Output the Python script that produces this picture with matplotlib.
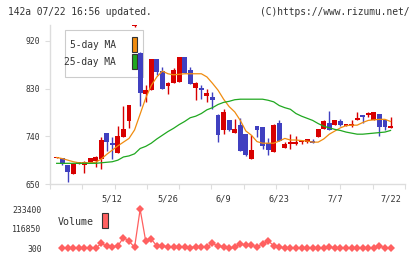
import numpy as np
import matplotlib
matplotlib.use("Agg")
import matplotlib.pyplot as plt
from matplotlib.patches import Rectangle

plt.rcParams['font.family'] = ['DejaVu Sans Mono']

# 61 sessions, last one is 7/22
opens = [699, 700, 686, 669, 688, 686, 692, 694, 697, 746,
         727, 709, 739, 768, 948, 897, 819, 828, 885, 863,
         834, 841, 843, 889, 866, 831, 832, 816, 815, 780,
         751, 771, 747, 761, 744, 698, 759, 758, 727, 711,
         765, 717, 725, 726, 729, 729, 732, 738, 754, 765,
         761, 769, 760, 760, 771, 780, 780, 770, 782, 771, 756]
highs = [700.5, 700, 686, 690, 692, 694, 700, 702, 739, 746,
         739, 760, 797, 800, 960, 899, 837, 886, 886, 870,
         842, 868, 889, 889, 870, 842, 836, 830, 824, 782,
         791, 771, 773, 774, 744, 742, 760, 758, 737, 763,
         771, 730, 744, 740, 732, 735, 735, 754, 770, 788,
         771, 773, 764, 771, 785, 780, 785, 785, 782, 771, 776]
lows = [699, 685, 654, 668, 687, 671, 692, 683, 678, 713,
        698, 709, 739, 755, 946, 797, 805, 827, 856, 830,
        820, 840, 843, 859, 839, 809, 810, 805, 791, 730,
        744, 750, 747, 713, 703, 698, 738, 716, 705, 711,
        732, 717, 716, 724, 725, 727, 728, 738, 753, 752,
        761, 760, 760, 758, 771, 765, 777, 770, 741, 751, 756]
closes = [700.5, 688, 673, 688, 691, 691, 699, 701, 733, 730,
          724, 741, 754, 799, 958, 821, 827, 885, 862, 830,
          841, 865, 889, 859, 839, 841, 828, 822, 809, 743,
          786, 752, 754, 713, 705, 714, 751, 722, 715, 761,
          732, 725, 729, 730, 732, 735, 728, 754, 769, 752,
          771, 761, 763, 763, 775, 777, 784, 785, 758, 757, 759]

ma5 = [700, 698, 695, 692, 690, 690, 690, 691, 697, 706,
       714, 722, 729, 736, 752, 782, 812, 836, 852, 863,
       858, 856, 857, 858, 858, 858, 858, 852, 840, 827,
       810, 796, 786, 770, 750, 742, 730, 727, 727, 727,
       731, 736, 733, 733, 732, 731, 729, 729, 735, 744,
       750, 756, 760, 761, 761, 766, 770, 771, 772, 772, 768]
ma25 = [689, 689, 689, 689, 689, 689, 689, 689, 690, 691,
        692, 695, 701, 703, 707, 717, 721, 727, 735, 742,
        749, 755, 762, 768, 775, 778, 783, 790, 794, 800,
        804, 806, 809, 810, 810, 810, 810, 810, 808, 805,
        798, 794, 791, 783, 778, 774, 770, 764, 759, 756,
        753, 751, 748, 746, 744, 744, 745, 746, 747, 748, 751]

volume = [np.nan, 4000, 4000, 4000, 300, 4000, 300, 300, 29600, 14000,
          10000, 14000, 64700, 43200, 6000, 233400, 43200, 55000, 14000, 14000,
          10000, 10000, 10000, 10000, 4000, 10000, 10000, 10000, 29600, 14000,
          10000, 300, 6000, 27000, 18000, 18000, 10000, 27000, 45000, 16000,
          6000, 4000, 4000, 4000, 4000, 4000, 4000, 4000, 4000, 10000,
          300, 4000, 300, 300, 4000, 4000, 4000, 4000, 16000, 300, 4000]

tick_pos = [10, 20, 30, 40, 50, 60]
tick_labels = ['5/12', '5/26', '6/9', '6/23', '7/7', '7/22']
price_ticks = [650, 740, 830, 920]
vol_ticks = [300, 116850, 233400]

up_col = '#d80000'
down_col = '#4040c0'
ma5_col = '#f08c10'
ma25_col = '#20a820'
vol_col = '#ff6060'
axis_col = '#dddddd'
txt_col = '#333333'

W, H = 420, 259
fig = plt.figure(figsize=(W / 100, H / 100), dpi=100)

def fx(px):
    return px / W

def fy(px):
    return 1 - px / H

ax = fig.add_axes([fx(50), fy(184), fx(355), 159 / H])
vax = fig.add_axes([fx(50), fy(252), fx(355), 47 / H])

x = np.arange(len(opens))
o = np.array(opens, float)
c = np.array(closes, float)
colors = [up_col if cc >= oo else down_col for oo, cc in zip(o, c)]
bottoms = np.minimum(o, c)
heights = np.maximum(np.abs(c - o), 0.8)

ax.vlines(x, lows, highs, colors=colors, linewidth=1.0, zorder=2)
ax.bar(x, heights, bottom=bottoms, width=0.88, color=colors, linewidth=0, zorder=3)
ax.plot(x, ma5, color=ma5_col, linewidth=0.9, zorder=4)
ax.plot(x, ma25, color=ma25_col, linewidth=0.9, zorder=4)

xlim = (-1.2, 62.6)
ax.set_xlim(*xlim)
ax.set_ylim(650, 950)

for side in ['top', 'right']:
    ax.spines[side].set_visible(False)
for side in ['left', 'bottom']:
    ax.spines[side].set_color(axis_col)
    ax.spines[side].set_linewidth(1.0)

ax.set_yticks(price_ticks)
ax.tick_params(axis='y', length=3.6, width=0.8, color=axis_col, pad=3.5,
               labelsize=5.8, labelcolor=txt_col)
ax.set_xticks(tick_pos)
ax.set_xticklabels(tick_labels)
ax.tick_params(axis='x', which='major', length=0, pad=7.8, labelsize=6.2,
               labelcolor=txt_col)
ax.set_xticks(np.linspace(xlim[0], xlim[1], 12), minor=True)
ax.tick_params(axis='x', which='minor', length=3.6, width=0.8, color=axis_col)

# MA legend box (under the candles)
ax.add_patch(Rectangle((fx(65), fy(77)), fx(78), 47 / H, transform=fig.transFigure,
                       facecolor='white', edgecolor='#cccccc', linewidth=0.8,
                       zorder=1, clip_on=False))
ax.text(fx(116), fy(45), '5-day MA', transform=fig.transFigure, ha='right',
        va='center', fontsize=6.9, color=txt_col, zorder=1)
ax.text(fx(116), fy(62), '25-day MA', transform=fig.transFigure, ha='right',
        va='center', fontsize=6.9, color=txt_col, zorder=1)
ax.add_patch(Rectangle((fx(131.7), fy(52)), fx(5.6), 15 / H, transform=fig.transFigure,
                       facecolor=ma5_col, edgecolor='#333333', linewidth=0.8,
                       zorder=1, clip_on=False))
ax.add_patch(Rectangle((fx(131.7), fy(69)), fx(5.6), 15 / H, transform=fig.transFigure,
                       facecolor=ma25_col, edgecolor='#333333', linewidth=0.8,
                       zorder=1, clip_on=False))

# volume panel
vax.plot(x, volume, color=vol_col, linewidth=0.9, marker='D', markersize=4,
         markeredgewidth=0)
vax.set_xlim(*xlim)
span = vol_ticks[-1] - vol_ticks[0]
vax.set_ylim(vol_ticks[0] - span * 0.095, vol_ticks[-1] + span * 0.11)
vax.set_yticks(vol_ticks)
vax.set_yticklabels([str(v) for v in vol_ticks])
vax.tick_params(axis='y', length=0, pad=6, labelsize=5.9, labelcolor=txt_col)
vax.set_xticks([])
for s in vax.spines.values():
    s.set_visible(False)
vax.patch.set_alpha(0)

fig.text(fx(58), fy(222), 'Volume', ha='left', va='center', fontsize=7.2, color=txt_col)
fig.add_artist(Rectangle((fx(102), fy(228)), fx(5.6), 15 / H, transform=fig.transFigure,
                         facecolor=vol_col, edgecolor='#333333', linewidth=0.8))

fig.text(fx(8), fy(12), '142a 07/22 16:56 updated.', ha='left', va='center',
         fontsize=6.9, color=txt_col)
fig.text(fx(410), fy(12), '(C)https://www.rizumu.net/', ha='right', va='center',
         fontsize=6.9, color=txt_col)

fig.savefig('out.png', dpi=100)
